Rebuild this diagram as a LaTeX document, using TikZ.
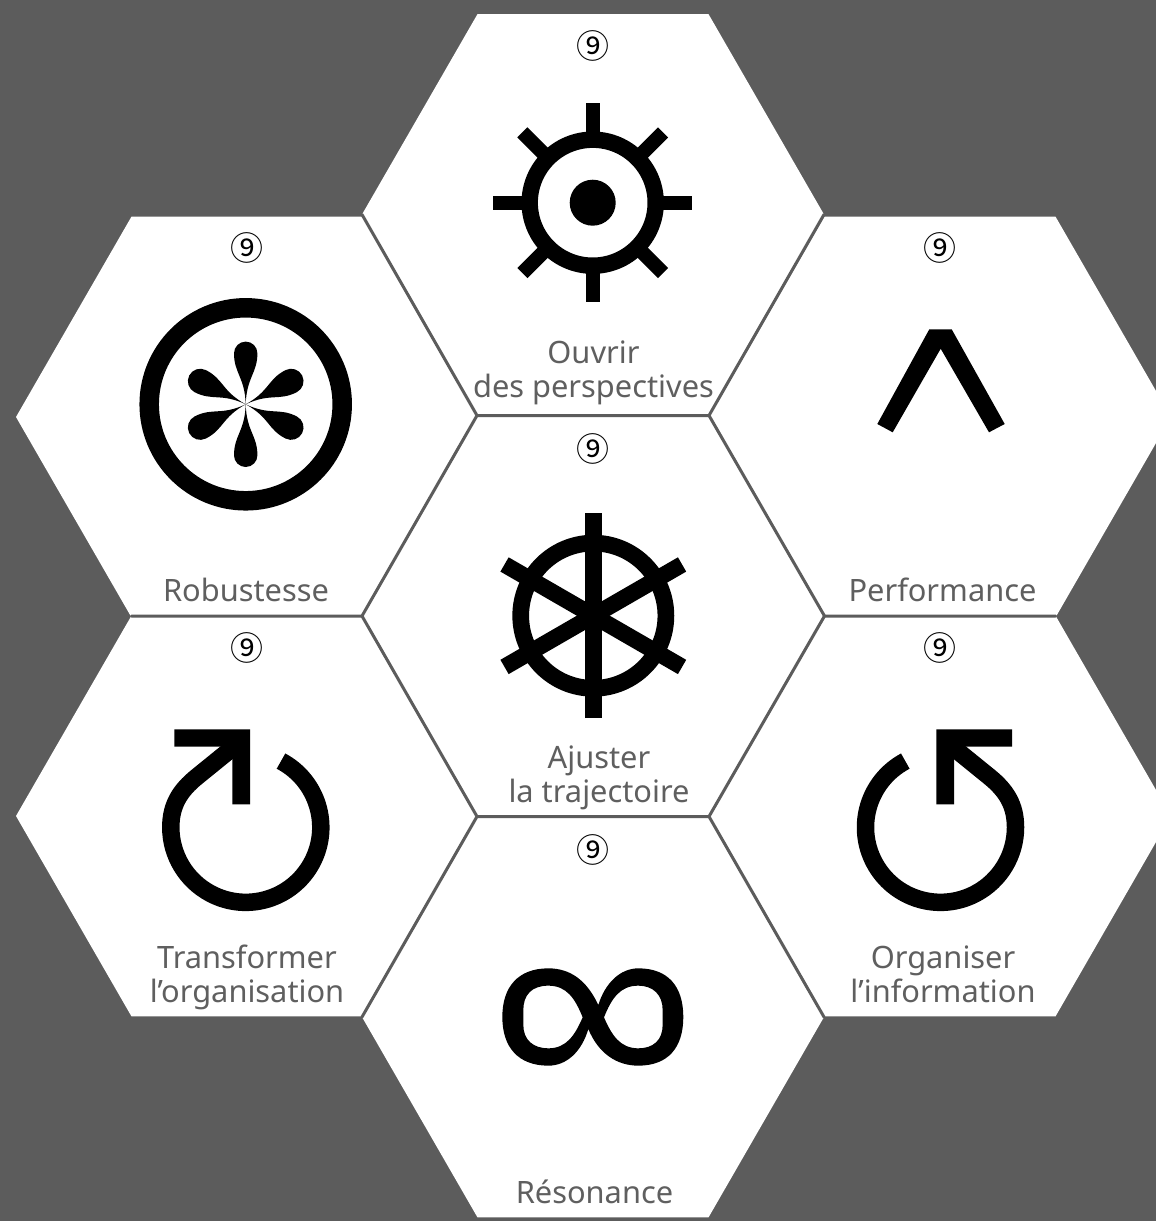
\documentclass[tikz,border=0pt]{standalone}
\usepackage{fontspec}
\setmainfont{Noto Sans}
\newfontfamily\cjkf{Noto Sans CJK JP}
\definecolor{bgc}{HTML}{5C5C5C}
\definecolor{txc}{HTML}{5F5F5F}
\tikzset{
  hexa/.style={fill=white},
  edge/.style={draw=bgc,line width=3pt,line cap=round},
  lab/.style={text=txc,font=\fontsize{30.8}{34}\selectfont,align=center,anchor=base,inner sep=0pt},
  num/.style={text=black,font=\cjkf\fontsize{33}{34}\selectfont,inner sep=0pt},
  ink/.style={draw=black,fill=none,line cap=butt}
}
\newcommand{\hexat}[2]{\path[hexa] (#1,#2) +(231,0) -- +(115.5,-200.4) -- +(-115.5,-200.4) -- +(-231,0) -- +(-115.5,200.4) -- +(115.5,200.4) -- cycle;}
\newcommand{\ptl}[2]{\fill[black,shift={(245.7,404.3)},rotate=#1] (0,0) .. controls (0.8,-27) and (#2,-31) .. (#2,-51) arc (0:-180:#2) .. controls (-#2,-31) and (-0.8,-27) .. (0,0) -- cycle;}
\newcommand{\pwr}{
  \draw[ink,line width=17.5pt] (281,761.1) arc (-62:180:75) .. controls (170.8,805) and (180,790.5) .. (197,776.7) -- (241,741);
  \fill[black] (174.3,729.3) -- (250,729.3) -- (250,804.3) -- (232.3,804.3) -- (232.3,746.7) -- (174.3,746.7) -- cycle;
}
\begin{document}
\begin{tikzpicture}[x=1pt,y=-1pt]
\useasboundingbox (0,0) rectangle (1156,1221);
\fill[bgc] (0,0) rectangle (1156,1221);
\begin{scope}
\clip (0,0) rectangle (1156,1221);
\hexat{593}{214.5}
\hexat{247}{417}
\hexat{940}{417}
\hexat{593}{616}
\hexat{247}{816}
\hexat{940}{816}
\hexat{593}{1017}
\end{scope}
% edges between the hexagons
\draw[edge] (362,214.5) -- (477,415.5) -- (709,415.5) -- (824,214.5);
\draw[edge] (131.5,616) -- (362,616) -- (477,415.5);
\draw[edge] (709,415.5) -- (824.5,616) -- (1055.5,616);
\draw[edge] (362,616) -- (477,816.5) -- (709,816.5) -- (824.5,616);
\draw[edge] (477,816.5) -- (362,1017);
\draw[edge] (709,816.5) -- (824,1017);
% sun
\draw[ink,line width=16.4pt] (592.7,202.7) circle (63);
\fill[black] (592.7,202.7) circle (23);
\foreach \a in {0,45,...,315}
  \draw[ink,line width=14.3pt] (592.7,202.7) ++(\a:66) -- ++(\a:33.5);
% asterisk
\draw[ink,line width=19.5pt] (245.7,404.3) circle (96.5);
\ptl{0}{11.7}
\ptl{180}{11.7}
\ptl{63}{12.4}
\ptl{117}{12.4}
\ptl{243}{12.4}
\ptl{297}{12.4}
% caret
\fill[black] (929.3,329.3) -- (951.7,329.3) -- (1004.7,424) -- (989,432.3) -- (940.7,348.7) -- (892.7,432.3) -- (877.3,424) -- cycle;
% wheel
\draw[ink,line width=16.7pt] (593.3,615.7) circle (72.6);
\foreach \a in {30,90,150}
  \draw[ink,line width=16.5pt] (593.3,615.7) ++(\a:102.5) -- ++(\a+180:205);
% power
\pwr
\begin{scope}[xscale=-1,xshift=-1186.3pt]
\pwr
\end{scope}
% infinity
\begin{scope}[shift={(470,930)},x=0.3333pt,y=-0.3333pt]
\fill[black,even odd rule]
 (385,225) .. controls (350,150) and (300,115) .. (235,115) .. controls (145,115) and (97,170) .. (97,261) .. controls (97,352) and (145,407) .. (235,407) .. controls (290,407) and (335,365) .. (355,297) .. controls (385,370) and (440,407) .. (505,407) .. controls (595,407) and (640,352) .. (640,261) .. controls (640,170) and (595,115) .. (505,115) .. controls (450,115) and (405,160) .. (385,225) -- cycle
 (338,262) .. controls (315,205) and (290,167) .. (235,167) .. controls (185,167) and (160,195) .. (160,240) -- (160,285) .. controls (160,330) and (190,355) .. (235,355) .. controls (290,355) and (315,315) .. (338,262) -- cycle
 (402,262) .. controls (425,205) and (450,167) .. (505,167) .. controls (550,167) and (578,195) .. (578,240) -- (578,285) .. controls (578,330) and (550,355) .. (505,355) .. controls (450,355) and (425,315) .. (402,262) -- cycle;
\end{scope}
% numbers
\node[num] (n1) at (593,46) {⑨};
\node[num] (n2) at (247,248) {⑨};
\node[num] (n3) at (940,248) {⑨};
\node[num] (n4) at (593,449) {⑨};
\node[num] (n5) at (247,648) {⑨};
\node[num] (n6) at (940,648) {⑨};
\node[num] (n7) at (593,850) {⑨};
% labels
\node[lab] (l1) at (593.5,397) {Ouvrir\\des perspectives};
\node[lab] (l2) at (246,601) {Robustesse};
\node[lab] (l3) at (942.5,601) {Performance};
\node[lab] (l4) at (599,802) {Ajuster\\la trajectoire};
\node[lab] (l5) at (247,1002) {Transformer\\l’organisation};
\node[lab] (l6) at (943,1002) {Organiser\\l’information};
\node[lab] (l7) at (594.5,1203) {Résonance};
\end{tikzpicture}
\end{document}
